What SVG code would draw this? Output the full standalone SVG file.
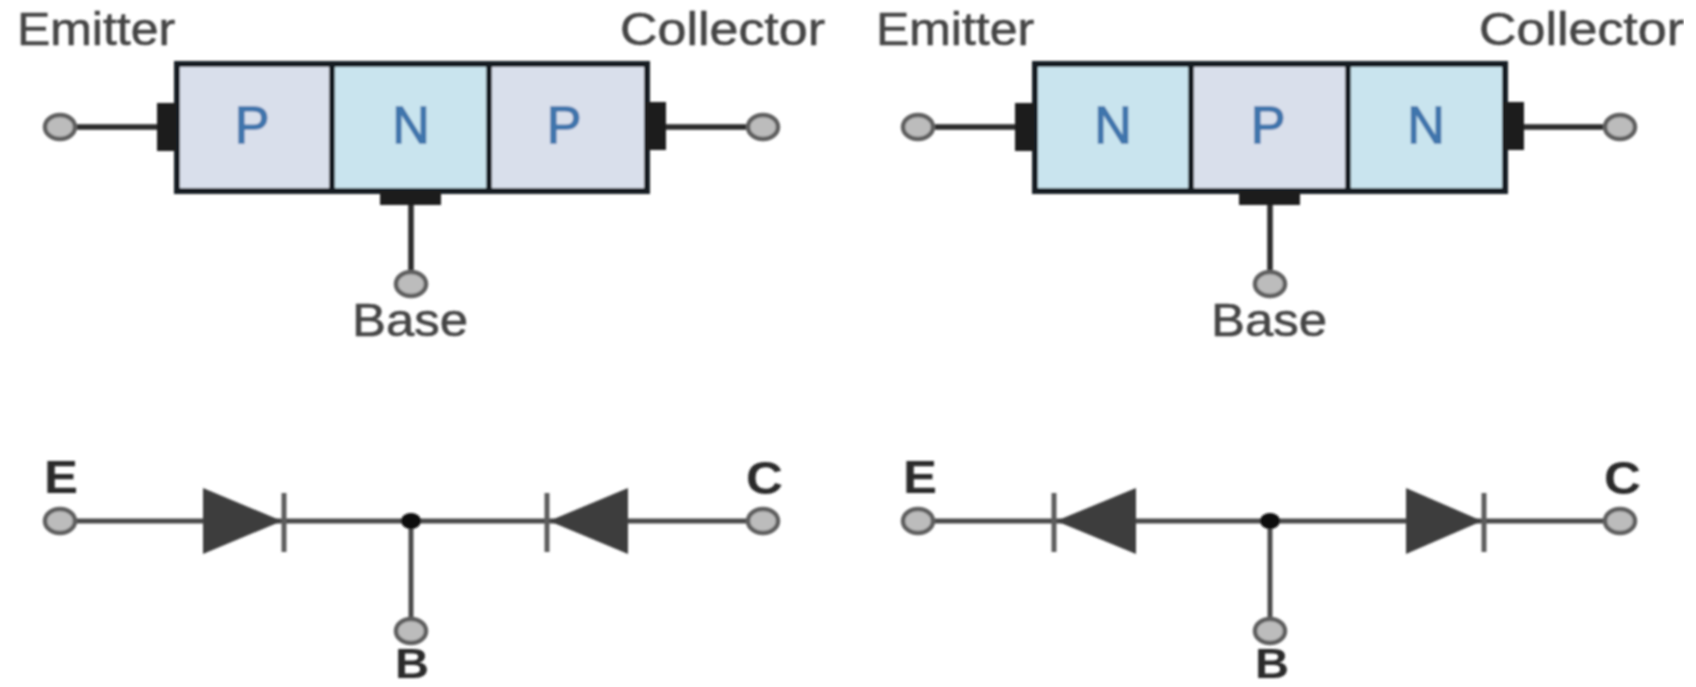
<svg xmlns="http://www.w3.org/2000/svg" width="1696" height="687" viewBox="0 0 1696 687">
<defs><filter id="soft" x="0" y="0" width="100%" height="100%" filterUnits="objectBoundingBox"><feGaussianBlur stdDeviation="0.8"/></filter></defs>
<style>
.t{font-family:"Liberation Sans",Arial,sans-serif;font-size:46px;fill:#454545;stroke:#454545;stroke-width:.6}
.l{font-family:"Liberation Sans",Arial,sans-serif;font-size:47px;font-weight:bold;fill:#2a2a2a}
.lb{font-size:43px}
.s{font-family:"Liberation Sans",Arial,sans-serif;font-size:52px;fill:#3f74ac;stroke:#3f74ac;stroke-width:1.4;text-anchor:middle}
.p{fill:#d9dfeb;stroke:#161c20;stroke-width:6}
.n{fill:#c9e4ee;stroke:#161c20;stroke-width:6}
.c{fill:#bcbcbc;stroke:#5e5e5e;stroke-width:4.5}
.w{stroke:#2a2a2a;stroke-width:5.5;fill:none}
.w2{stroke:#4a4a4a;stroke-width:5;fill:none}
.d{fill:#3c3c3c}
.b{stroke:#5c5c5c;stroke-width:5;fill:none}
.k{fill:#1c1c1c}
.j{fill:#111}
</style>
<rect width="1696" height="687" fill="#fff"/>
<g filter="url(#soft)">
<g id="connectors">
<path class="w" d="M75 127H160M663 127H747M411 203V272M935 127H1018M1523 127H1604M1270 203V272"/>
<path class="w2" d="M75 521H284M284 521H411V618M411 521H547M547 521H747M935 521H1270V618M1270 521H1604"/>
</g>
<g id="pnp">
<rect class="p" x="177" y="64" width="155" height="127"/><rect class="n" x="332" y="64" width="157" height="127"/><rect class="p" x="489" y="64" width="158" height="127"/>
<text class="s" x="252" y="143">P</text><text class="s" x="411" y="143">N</text><text class="s" x="564" y="143">P</text>
<rect class="k" x="157" y="103" width="19" height="48"/><rect class="k" x="646" y="102" width="20" height="48"/><rect class="k" x="380" y="191" width="61" height="14"/>
</g>
<g id="npn">
<rect class="n" x="1035" y="64" width="156" height="127"/><rect class="p" x="1191" y="64" width="157" height="127"/><rect class="n" x="1348" y="64" width="157" height="127"/>
<text class="s" x="1113" y="143">N</text><text class="s" x="1268" y="143">P</text><text class="s" x="1426" y="143">N</text>
<rect class="k" x="1015" y="103" width="19" height="48"/><rect class="k" x="1504" y="102" width="20" height="48"/><rect class="k" x="1239" y="191" width="61" height="14"/>
</g>
<g id="terminals">
<ellipse class="c" cx="60" cy="127" rx="15" ry="12"/><ellipse class="c" cx="763" cy="127" rx="15" ry="12"/><ellipse class="c" cx="411" cy="284" rx="15" ry="12"/>
<ellipse class="c" cx="918" cy="127" rx="15" ry="12"/><ellipse class="c" cx="1620" cy="127" rx="15" ry="12"/><ellipse class="c" cx="1270" cy="284" rx="15" ry="12"/>
<ellipse class="c" cx="60" cy="521" rx="15" ry="12"/><ellipse class="c" cx="763" cy="521" rx="15" ry="12"/><ellipse class="c" cx="411" cy="631" rx="15" ry="12"/>
<ellipse class="c" cx="918" cy="521" rx="15" ry="12"/><ellipse class="c" cx="1620" cy="521" rx="15" ry="12"/><ellipse class="c" cx="1270" cy="631" rx="15" ry="12"/>
</g>
<g id="diodes">
<path class="d" d="M203 488L282 521L203 554Z"/><path class="b" d="M284 493V552"/>
<path class="d" d="M628 488L549 521L628 554Z"/><path class="b" d="M547 493V552"/>
<path class="d" d="M1136 488L1056 521L1136 554Z"/><path class="b" d="M1054 493V552"/>
<path class="d" d="M1406 488L1482 521L1406 554Z"/><path class="b" d="M1484 493V552"/>
<ellipse class="j" cx="411" cy="521" rx="10" ry="8"/><ellipse class="j" cx="1270" cy="521" rx="10" ry="8"/>
</g>
<g id="labels">
<text class="t" x="17" y="45" textLength="158" lengthAdjust="spacingAndGlyphs">Emitter</text><text class="t" x="620" y="45" textLength="205" lengthAdjust="spacingAndGlyphs">Collector</text><text class="t" x="352" y="336" textLength="116" lengthAdjust="spacingAndGlyphs">Base</text>
<text class="t" x="876" y="45" textLength="158" lengthAdjust="spacingAndGlyphs">Emitter</text><text class="t" x="1479" y="45" textLength="205" lengthAdjust="spacingAndGlyphs">Collector</text><text class="t" x="1211" y="336" textLength="116" lengthAdjust="spacingAndGlyphs">Base</text>
<text class="l" x="44" y="493" textLength="34" lengthAdjust="spacingAndGlyphs">E</text><text class="l" x="746" y="494" textLength="37" lengthAdjust="spacingAndGlyphs">C</text><text class="l lb" x="395" y="677.5" textLength="34" lengthAdjust="spacingAndGlyphs">B</text>
<text class="l" x="903" y="493" textLength="34" lengthAdjust="spacingAndGlyphs">E</text><text class="l" x="1604" y="494" textLength="37" lengthAdjust="spacingAndGlyphs">C</text><text class="l lb" x="1255" y="677.5" textLength="34" lengthAdjust="spacingAndGlyphs">B</text>
</g>
</g>
</svg>
